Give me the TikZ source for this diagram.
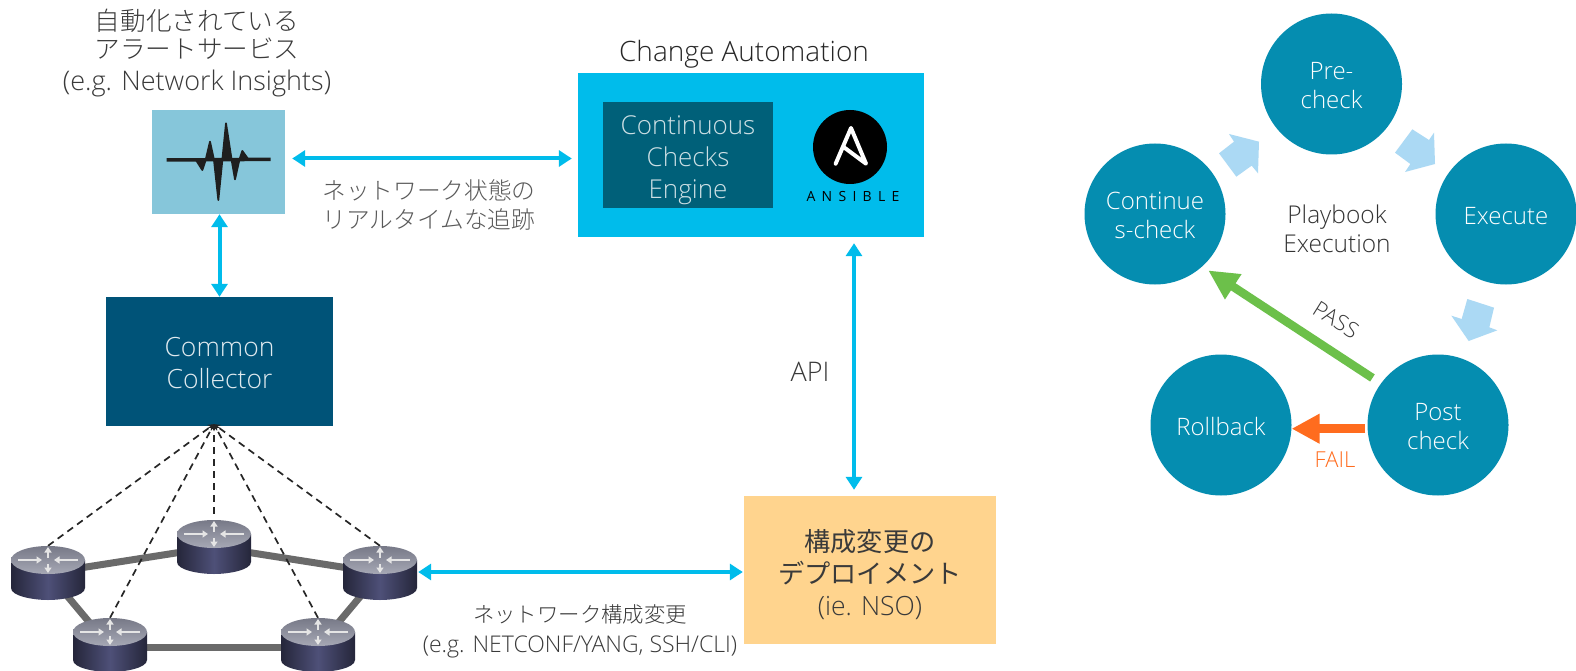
\documentclass[tikz,border=0pt]{standalone}
\usepackage{fontspec}
\usetikzlibrary{arrows.meta,calc}
\setmainfont{Open Sans}[UprightFont=* Light,BoldFont=*]
\newfontfamily\jpfont{Noto Sans CJK JP}[UprightFont=* Light,BoldFont=*]
\newfontfamily\ansfont[LetterSpace=45]{Open Sans}
\definecolor{txt}{HTML}{3A3A3A}
\definecolor{sky}{HTML}{00BCEB}
\definecolor{teal}{HTML}{058DB0}
\definecolor{pale}{HTML}{ABD9F4}
\definecolor{navy}{HTML}{005378}
\definecolor{inner}{HTML}{006079}
\definecolor{alertc}{HTML}{86C6DA}
\definecolor{deployc}{HTML}{FFD48E}
\definecolor{linkc}{HTML}{6A6A6A}
\definecolor{passc}{HTML}{6CC04A}
\definecolor{failc}{HTML}{FF6C1E}
\definecolor{rdark}{HTML}{25263A}
\definecolor{rmid}{HTML}{4E5078}
\definecolor{rtopa}{HTML}{A6A8B5}
\definecolor{rtopb}{HTML}{777987}
\newcommand{\topstrut}[1]{\rule{0pt}{#1pt}}
\tikzset{
  lab/.style={inner sep=0pt,align=center,text=txt,font=\fontsize{27}{28.5}\selectfont},
  smalllab/.style={inner sep=0pt,align=center,text=txt,font=\fontsize{23}{30}\selectfont},
  cyc/.style={circle,fill=teal,minimum size=141pt,inner sep=0pt,align=center,text=white,font=\fontsize{24}{29}\selectfont},
  bluearrow/.style={{Triangle[length=13pt,width=16pt]}-{Triangle[length=13pt,width=16pt]},line width=4pt,draw=sky},
  routerbase/.style={minimum width=74pt,minimum height=54pt,inner sep=0pt},
  link/.style={line width=7pt,draw=linkc},
  dashlink/.style={line width=1.7pt,draw=black!85,dash pattern=on 7pt off 5pt,-{Stealth[length=6pt,width=7pt]}},
  pale arrow/.style={fill=pale,draw=none},
  zoomA/.style={shift={(#1)},x=0.33333pt,y=-0.33333pt},
  rarrow/.style={white!80!gray,line width=1.5pt,-{Triangle[length=5.5pt,width=7pt]}},
}
\newcommand{\routerart}[2]{%
  \begin{scope}[shift={(#1,#2)}]
    \shade[left color=rdark,right color=rdark,middle color=rmid]
      (-37,-13) -- (-37,15) .. controls (-37,23) and (-15,27) .. (0,27) .. controls (15,27) and (37,23) .. (37,15) -- (37,-13) -- cycle;
    \shade[top color=rtopb,bottom color=rtopa] (0,-13) ellipse [x radius=37,y radius=14];
    \draw[rarrow] (0,-15) -- (0,-26);
    \draw[rarrow] (0,-9) -- (0,0);
    \draw[rarrow] (-30,-13) -- (-6,-13);
    \draw[rarrow] (30,-13) -- (6,-13);
  \end{scope}}
\begin{document}
\begin{tikzpicture}[x=1pt,y=-1pt]
\useasboundingbox (0,0) rectangle (1576,671);
\fill[white] (0,0) rectangle (1576,671);

% --- left top
\node[lab] (alerttitle) at (197,53) {{\jpfont\fontsize{25.6}{28.5}\selectfont 自動化されている}\\{\jpfont\fontsize{25.6}{28.5}\selectfont アラートサービス}\\[3pt](e.g. Network Insights)};
\node[minimum width=133pt,minimum height=104pt,inner sep=0pt,fill=alertc] (alert) at (218.5,162) {};
\begin{scope}[zoomA={140,90}]
  \draw[black!88,line width=3.5pt] (80,210) -- (392,208);
  \fill[black!88,draw=black!88,line width=1.8pt,line join=round]
    (168,210) -- (187,240) -- (197,210) -- (210,155) -- (222,210) -- (235,330) -- (247,210) -- (258,100) -- (275,210) -- (285,268) -- (298,210) -- (307,183) -- (325,208) -- cycle;
\end{scope}

\node[minimum width=227pt,minimum height=129pt,inner sep=0pt,fill=navy,align=center,text=white!88!navy,font=\fontsize{26.5}{32}\selectfont] (collector) at (219.5,361.5) {\topstrut{22}Common\\Collector};

% --- change automation
\node[lab,text=black!85,font=\fontsize{28}{30}\selectfont] (catitle) at (744,54) {Change Automation};
\node[minimum width=346pt,minimum height=164pt,inner sep=0pt,fill=sky] (change) at (751,155) {};
\node[minimum width=170pt,minimum height=106pt,inner sep=0pt,fill=inner,align=center,text=white!80!inner,font=\fontsize{26}{32}\selectfont] (engine) at (688,155) {\topstrut{28.5}Continuous\\Checks\\Engine};
\node[circle,fill=black,minimum size=74pt,inner sep=0pt] (anscircle) at (850,147) {};
\begin{scope}[zoomA={570,60}]
  \draw[white,line width=4pt,line join=round,line cap=round] (797,311) -- (843,204) -- (888,311) -- (822,262);
\end{scope}
\node[inner sep=0pt,text=black,font=\ansfont\fontsize{14}{16}\selectfont] (anstext) at (853,196) {ANSIBLE};

% --- deploy
\node[minimum width=252pt,minimum height=148pt,inner sep=0pt,fill=deployc,align=center,text=txt,font=\fontsize{26.5}{32}\selectfont] (deploy) at (870,570) {\topstrut{32}{\jpfont\bfseries\fontsize{26.2}{32}\selectfont 構成変更の}\\{\jpfont\bfseries\fontsize{26.2}{32}\selectfont デプロイメント}\\(ie. NSO)};

% --- routers
\node[routerbase] (rA) at (48,573) {};
\node[routerbase] (rB) at (214,547) {};
\node[routerbase] (rC) at (380,573) {};
\node[routerbase] (rD) at (110,645) {};
\node[routerbase] (rE) at (318,645) {};
\draw[link] (rA.center) -- (rB.center);
\draw[link] (rB.center) -- (rC.center);
\draw[link] (rA.center) -- ([yshift=-2pt]rD.center);
\draw[link] ([yshift=-2pt]rD.center) -- ([yshift=-2pt]rE.center);
\draw[link] ([yshift=-2pt]rE.center) -- (rC.center);
\draw[dashlink] (rA.north) -- ([xshift=-5.5pt,yshift=2pt]collector.south);
\draw[dashlink] ([yshift=6pt]rB.north) -- ([xshift=-5.5pt,yshift=2pt]collector.south);
\draw[dashlink] (rC.north) -- ([xshift=-5.5pt,yshift=2pt]collector.south);
\draw[dashlink] (rD.north) -- ([xshift=-5.5pt,yshift=2pt]collector.south);
\draw[dashlink] (rE.north) -- ([xshift=-5.5pt,yshift=2pt]collector.south);
\routerart{48}{573}
\routerart{214}{547}
\routerart{380}{573}
\routerart{110}{645}
\routerart{318}{645}

% --- blue arrows
\draw[bluearrow,shorten <=7pt,shorten >=6pt] ([yshift=3.5pt]alert.east) -- ([yshift=-3.5pt]change.west);
\draw[bluearrow] ([xshift=1pt]alert.south) -- (collector.north);
\draw[bluearrow,shorten <=6pt,shorten >=6pt] ([xshift=103pt]change.south) -- ([xshift=-16pt]deploy.north);
\draw[bluearrow,shorten <=1pt,shorten >=1pt] ([yshift=1pt]rC.east) -- ([yshift=-2pt]deploy.west);

\node[inner sep=0pt,align=center,text=black!65,font=\jpfont\fontsize{23.7}{29}\selectfont] (statelab) at (429,204.5) {ネットワーク状態の\\リアルタイムな追跡};
\node[lab] (apilab) at (810,372) {API};
\node[smalllab] (netlab) at (580,631) {{\jpfont\fontsize{21.4}{30}\selectfont ネットワーク構成変更}\\(e.g. NETCONF/YANG, SSH/CLI)};

% --- playbook cycle
\node[cyc] (pre) at (1331.5,84) {\topstrut{21}Pre-\\check};
\node[cyc] (cont) at (1155,214) {\topstrut{21}Continue\\s-check};
\node[cyc] (exec) at (1506,214) {\topstrut{21}Execute};
\node[cyc] (post) at (1438,425) {\topstrut{21}Post\\check};
\node[cyc] (roll) at (1221,425) {\topstrut{21}Rollback};
\node[inner sep=0pt,align=center,text=black!80,font=\fontsize{24.5}{29}\selectfont] (pb) at (1337,229) {Playbook\\Execution};

\begin{scope}[zoomA={1070,0}]
  \fill[pale arrow] (447,460) -- (492,425) -- (477,402) -- (567,425) -- (564,520) -- (545,497) -- (499,530) -- cycle;
  \fill[pale arrow] (1027,388) -- (1077,420) -- (1092,398) -- (1095,492) -- (1005,516) -- (1021,492) -- (975,458) -- cycle;
\end{scope}
\begin{scope}[zoomA={1130,270}]
  \fill[pale arrow] (1012,87) -- (1092,113) -- (1078,172) -- (1102,181) -- (1016,213) -- (964,137) -- (995,147) -- cycle;
\end{scope}

\draw[passc,line width=8.5pt,-{Triangle[length=30pt,width=28pt]},shorten <=10pt,shorten >=7pt] (post.144) -- (cont.-48.6);
\draw[failc,line width=9pt,-{Triangle[length=28pt,width=28pt]},shorten <=2pt] (post.183.25) -- (roll.-3.25);
\node[inner sep=0pt,text=txt,rotate=-32,font=\fontsize{22}{24}\selectfont] (passlab) at (1336,320) {PASS};
\node[inner sep=0pt,text=failc,font=\fontsize{22}{24}\selectfont] (faillab) at (1335,460) {FAIL};
\end{tikzpicture}
\end{document}
